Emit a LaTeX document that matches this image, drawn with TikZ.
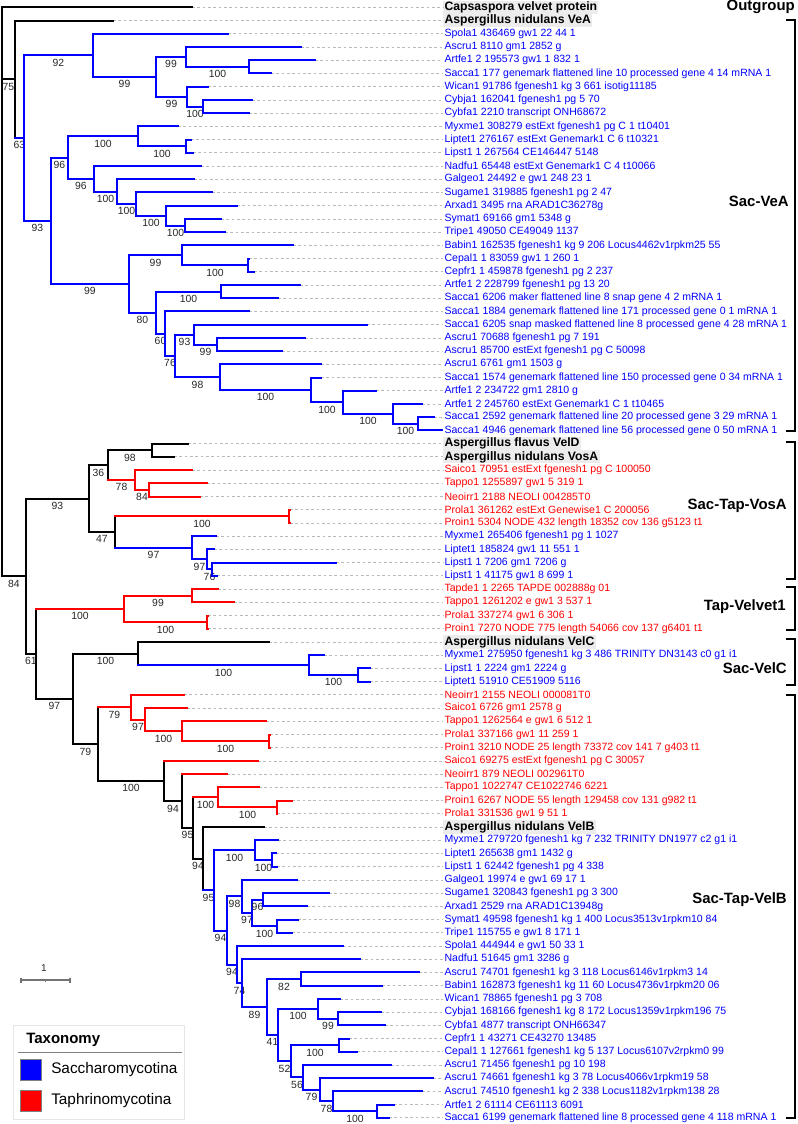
\documentclass[tikz,border=0pt]{standalone}
\usepackage{fontspec}
\setmainfont{Liberation Sans}

\definecolor{sacblue}{RGB}{0,0,255}
\definecolor{tapred}{RGB}{255,0,0}
\definecolor{boxgray}{RGB}{236,236,236}
\definecolor{supgray}{RGB}{40,40,40}
\definecolor{leadgray}{RGB}{185,185,185}
\definecolor{legendgray}{RGB}{230,230,230}

\tikzset{
  branch/.style={line width=1.5pt, line cap=rect},
  sup/.style={below, inner sep=2pt, font=\fontsize{7.8}{8}\selectfont, text=supgray},
  lab/.style={anchor=west, inner xsep=1pt, inner ysep=0pt, minimum height=9.9pt,
    font=\fontsize{7.9}{9}\selectfont},
  og/.style={fill=boxgray, text=black, font=\bfseries\fontsize{9.15}{10}\selectfont},
  sac/.style={text=sacblue},
  tap/.style={text=tapred},
  leader/.style={draw=leadgray, line width=0.6pt, dash pattern=on 2pt off 2pt},
  clade/.style={anchor=east, inner sep=0pt, font=\bfseries\fontsize{11.2}{12}\selectfont},
  bracket/.style={line width=1.1pt},
}

% vertical of a node, leaf branch, inner branch with support value
\newcommand{\brv}[4]{\draw[branch,#1] (#2 |- #3) -- (#2 |- #4);}
\newcommand{\brl}[3]{\draw[branch,#1] (#2 |- #3) -- (#3);}
\newcommand{\brn}[4]{\draw[branch,#1] (#2 |- #3) -- node[sup] (s#3) {#4} (#3);}

\begin{document}
\begin{tikzpicture}[x=0.75pt,y=-0.75pt]
  \fill[white] (0,0) rectangle (797,1124);
  \useasboundingbox (0,0) rectangle (797,1124);

  \begin{scope}[y=-9.915pt, yshift=-5.55pt]
  % leaf tips
  \foreach \i/\x in {0/192,1/113,2/228,3/301,4/315,5/271,6/208,7/252,8/249,9/178,
    10/191,11/193,12/201,13/194,14/212,15/237,16/221,17/225,18/293,19/249,
    20/254,21/300,22/278,23/249,24/367,25/305,26/282,27/321,28/321,29/376,
    30/422,31/434,32/442,33/188,34/174,35/192,36/207,37/200,38/290,39/290,
    40/216,41/214,42/336,43/217,44/218,45/234,46/208,47/208,48/269,49/324,
    50/370,51/370,52/184,53/187,54/266,55/270,56/270,57/258,58/227,59/259,
    60/292,61/277,62/264,63/278,64/276,65/277,66/297,67/329,68/307,69/298,
    70/292,71/343,72/360,73/419,74/382,75/340,76/381,77/385,78/349,79/357,
    80/391,81/433,82/422,83/394,84/389}
    \coordinate (l\i) at (\x,\i);

  % inner nodes
  \coordinate (root) at (2,21.5);
  \coordinate (vA) at (15,5.44);
  \coordinate (vB) at (24,9.88);
  \coordinate (vC) at (93,3.625);
  \coordinate (vD) at (156,5.25);
  \coordinate (vE) at (186,3.75);
  \coordinate (vF) at (249,4.5);
  \coordinate (vG) at (187,6.75);
  \coordinate (vH) at (203,7.5);
  \coordinate (vI) at (51,16.14);
  \coordinate (vJ) at (68,11.36);
  \coordinate (vK) at (138,9.75);
  \coordinate (vL) at (186,10.5);
  \coordinate (vM) at (94,12.97);
  \coordinate (vN) at (117,13.94);
  \coordinate (vO) at (136,14.875);
  \coordinate (vP) at (166,15.75);
  \coordinate (vQ) at (185,16.5);
  \coordinate (vR) at (129,20.92);
  \coordinate (vS) at (182,18.75);
  \coordinate (vT) at (248,19.5);
  \coordinate (vU) at (156,23.09);
  \coordinate (vV) at (221,21.5);
  \coordinate (vW) at (165,24.68);
  \coordinate (vX) at (175,26.36);
  \coordinate (vY) at (194,24.75);
  \coordinate (vZ) at (217,25.5);
  \coordinate (vAA) at (220,27.97);
  \coordinate (vAB) at (311,28.94);
  \coordinate (vAC) at (343,29.875);
  \coordinate (vAD) at (393,30.75);
  \coordinate (vAE) at (418,31.5);
  \coordinate (r84) at (26,43.03);
  \coordinate (o93) at (89,37.16);
  \coordinate (o36) at (108,34.625);
  \coordinate (o98) at (152,33.5);
  \coordinate (o78) at (135,35.75);
  \coordinate (o84) at (149,36.5);
  \coordinate (o47) at (115,39.69);
  \coordinate (o100) at (289,38.5);
  \coordinate (o97a) at (192,40.875);
  \coordinate (o97b) at (207,41.75);
  \coordinate (o76) at (212,42.5);
  \coordinate (g61) at (36,48.9);
  \coordinate (t100) at (124,45.5);
  \coordinate (t99) at (192,44.5);
  \coordinate (t100b) at (207,46.5);
  \coordinate (g97) at (73,52.3);
  \coordinate (c100) at (138,48.875);
  \coordinate (c100b) at (309,49.75);
  \coordinate (c100c) at (358,50.5);
  \coordinate (g79) at (98,55.73);
  \coordinate (b79) at (131,52.94);
  \coordinate (b97) at (145,53.875);
  \coordinate (b100) at (182,54.75);
  \coordinate (b100b) at (269,55.5);
  \coordinate (g100) at (164,58.52);
  \coordinate (g94) at (182,60.04);
  \coordinate (g95) at (193,62.07);
  \coordinate (w100) at (218,59.75);
  \coordinate (w100b) at (277,60.5);
  \coordinate (g94b) at (203,64.4);
  \coordinate (s95) at (214,66.79);
  \coordinate (s100) at (255,63.75);
  \coordinate (s100b) at (272,64.5);
  \coordinate (s94) at (227,69.83);
  \coordinate (s98) at (242,67.25);
  \coordinate (s97) at (252,68.5);
  \coordinate (s96) at (263,67.5);
  \coordinate (s100c) at (277,69.5);
  \coordinate (s94b) at (237,72.4);
  \coordinate (s74) at (242,73.81);
  \coordinate (s89) at (267,75.62);
  \coordinate (s82) at (301,73.5);
  \coordinate (s41) at (278,77.73);
  \coordinate (s100d) at (318,75.75);
  \coordinate (s99) at (338,76.5);
  \coordinate (s52) at (291,79.72);
  \coordinate (s100e) at (339,78.5);
  \coordinate (s56) at (303,80.94);
  \coordinate (s79) at (320,81.875);
  \coordinate (s78) at (333,82.75);
  \coordinate (s100f) at (377,83.5);

  % leaf labels
  \foreach \i/\s/\t in {0/og/Capsaspora velvet protein,
    1/og/Aspergillus nidulans VeA,
    2/sac/Spola1 436469 gw1 22 44 1,
    3/sac/Ascru1 8110 gm1 2852 g,
    4/sac/Artfe1 2 195573 gw1 1 832 1,
    5/sac/Sacca1 177 genemark flattened line 10 processed gene 4 14 mRNA 1,
    6/sac/Wican1 91786 fgenesh1 kg 3 661 isotig11185,
    7/sac/Cybja1 162041 fgenesh1 pg 5 70,
    8/sac/Cybfa1 2210 transcript ONH68672,
    9/sac/Myxme1 308279 estExt fgenesh1 pg C 1 t10401,
    10/sac/Liptet1 276167 estExt Genemark1 C 6 t10321,
    11/sac/Lipst1 1 267564 CE146447 5148,
    12/sac/Nadfu1 65448 estExt Genemark1 C 4 t10066,
    13/sac/Galgeo1 24492 e gw1 248 23 1,
    14/sac/Sugame1 319885 fgenesh1 pg 2 47,
    15/sac/Arxad1 3495 rna ARAD1C36278g,
    16/sac/Symat1 69166 gm1 5348 g,
    17/sac/Tripe1 49050 CE49049 1137,
    18/sac/Babin1 162535 fgenesh1 kg 9 206 Locus4462v1rpkm25 55,
    19/sac/Cepal1 1 83059 gw1 1 260 1,
    20/sac/Cepfr1 1 459878 fgenesh1 pg 2 237,
    21/sac/Artfe1 2 228799 fgenesh1 pg 13 20,
    22/sac/Sacca1 6206 maker flattened line 8 snap gene 4 2 mRNA 1,
    23/sac/Sacca1 1884 genemark flattened line 171 processed gene 0 1 mRNA 1,
    24/sac/Sacca1 6205 snap masked flattened line 8 processed gene 4 28 mRNA 1,
    25/sac/Ascru1 70688 fgenesh1 pg 7 191,
    26/sac/Ascru1 85700 estExt fgenesh1 pg C 50098,
    27/sac/Ascru1 6761 gm1 1503 g,
    28/sac/Sacca1 1574 genemark flattened line 150 processed gene 0 34 mRNA 1,
    29/sac/Artfe1 2 234722 gm1 2810 g,
    30/sac/Artfe1 2 245760 estExt Genemark1 C 1 t10465,
    31/sac/Sacca1 2592 genemark flattened line 20 processed gene 3 29 mRNA 1,
    32/sac/Sacca1 4946 genemark flattened line 56 processed gene 0 50 mRNA 1,
    33/og/Aspergillus flavus VelD,
    34/og/Aspergillus nidulans VosA,
    35/tap/Saico1 70951 estExt fgenesh1 pg C 100050,
    36/tap/Tappo1 1255897 gw1 5 319 1,
    37/tap/Neoirr1 2188 NEOLI 004285T0,
    38/tap/Prola1 361262 estExt Genewise1 C 200056,
    39/tap/Proin1 5304 NODE 432 length 18352 cov 136 g5123 t1,
    40/sac/Myxme1 265406 fgenesh1 pg 1 1027,
    41/sac/Liptet1 185824 gw1 11 551 1,
    42/sac/Lipst1 1 7206 gm1 7206 g,
    43/sac/Lipst1 1 41175 gw1 8 699 1,
    44/tap/Tapde1 1 2265 TAPDE 002888g 01,
    45/tap/Tappo1 1261202 e gw1 3 537 1,
    46/tap/Prola1 337274 gw1 6 306 1,
    47/tap/Proin1 7270 NODE 775 length 54066 cov 137 g6401 t1,
    48/og/Aspergillus nidulans VelC,
    49/sac/Myxme1 275950 fgenesh1 kg 3 486 TRINITY DN3143 c0 g1 i1,
    50/sac/Lipst1 1 2224 gm1 2224 g,
    51/sac/Liptet1 51910 CE51909 5116,
    52/tap/Neoirr1 2155 NEOLI 000081T0,
    53/tap/Saico1 6726 gm1 2578 g,
    54/tap/Tappo1 1262564 e gw1 6 512 1,
    55/tap/Prola1 337166 gw1 11 259 1,
    56/tap/Proin1 3210 NODE 25 length 73372 cov 141 7 g403 t1,
    57/tap/Saico1 69275 estExt fgenesh1 pg C 30057,
    58/tap/Neoirr1 879 NEOLI 002961T0,
    59/tap/Tappo1 1022747 CE1022746 6221,
    60/tap/Proin1 6267 NODE 55 length 129458 cov 131 g982 t1,
    61/tap/Prola1 331536 gw1 9 51 1,
    62/og/Aspergillus nidulans VelB,
    63/sac/Myxme1 279720 fgenesh1 kg 7 232 TRINITY DN1977 c2 g1 i1,
    64/sac/Liptet1 265638 gm1 1432 g,
    65/sac/Lipst1 1 62442 fgenesh1 pg 4 338,
    66/sac/Galgeo1 19974 e gw1 69 17 1,
    67/sac/Sugame1 320843 fgenesh1 pg 3 300,
    68/sac/Arxad1 2529 rna ARAD1C13948g,
    69/sac/Symat1 49598 fgenesh1 kg 1 400 Locus3513v1rpkm10 84,
    70/sac/Tripe1 115755 e gw1 8 171 1,
    71/sac/Spola1 444944 e gw1 50 33 1,
    72/sac/Nadfu1 51645 gm1 3286 g,
    73/sac/Ascru1 74701 fgenesh1 kg 3 118 Locus6146v1rpkm3 14,
    74/sac/Babin1 162873 fgenesh1 kg 11 60 Locus4736v1rpkm20 06,
    75/sac/Wican1 78865 fgenesh1 pg 3 708,
    76/sac/Cybja1 168166 fgenesh1 kg 8 172 Locus1359v1rpkm196 75,
    77/sac/Cybfa1 4877 transcript ONH66347,
    78/sac/Cepfr1 1 43271 CE43270 13485,
    79/sac/Cepal1 1 127661 fgenesh1 kg 5 137 Locus6107v2rpkm0 99,
    80/sac/Ascru1 71456 fgenesh1 pg 10 198,
    81/sac/Ascru1 74661 fgenesh1 kg 3 78 Locus4066v1rpkm19 58,
    82/sac/Ascru1 74510 fgenesh1 kg 2 338 Locus1182v1rpkm138 28,
    83/sac/Artfe1 2 61114 CE61113 6091,
    84/sac/Sacca1 6199 genemark flattened line 8 processed gene 4 118 mRNA 1}
    \node[lab,\s] (lab\i) at (443,\i) {\t};

  % dashed leaders
  \foreach \i in {0,...,84}
    \draw[leader] (l\i) -- (lab\i.west);

  % outgroup and Sac-VeA
  \brv{black}{root}{l0}{r84} \brl{black}{root}{l0}
  \brn{black}{root}{vA}{75} \brn{black}{root}{r84}{84}
  \brv{black}{vA}{l1}{vB} \brl{black}{vA}{l1} \brn{sacblue}{vA}{vB}{63}
  \brv{sacblue}{vB}{vC}{vI} \brn{sacblue}{vB}{vC}{92} \brn{sacblue}{vB}{vI}{93}
  \brv{sacblue}{vC}{l2}{vD} \brl{sacblue}{vC}{l2} \brn{sacblue}{vC}{vD}{99}
  \brv{sacblue}{vD}{vE}{vG} \brn{sacblue}{vD}{vE}{99} \brn{sacblue}{vD}{vG}{99}
  \brv{sacblue}{vE}{l3}{vF} \brl{sacblue}{vE}{l3} \brn{sacblue}{vE}{vF}{100}
  \brv{sacblue}{vF}{l4}{l5} \brl{sacblue}{vF}{l4} \brl{sacblue}{vF}{l5}
  \brv{sacblue}{vG}{l6}{vH} \brl{sacblue}{vG}{l6} \brn{sacblue}{vG}{vH}{100}
  \brv{sacblue}{vH}{l7}{l8} \brl{sacblue}{vH}{l7} \brl{sacblue}{vH}{l8}
  \brv{sacblue}{vI}{vJ}{vR} \brn{sacblue}{vI}{vJ}{96} \brn{sacblue}{vI}{vR}{99}
  \brv{sacblue}{vJ}{vK}{vM} \brn{sacblue}{vJ}{vK}{100} \brn{sacblue}{vJ}{vM}{96}
  \brv{sacblue}{vK}{l9}{vL} \brl{sacblue}{vK}{l9} \brn{sacblue}{vK}{vL}{100}
  \brv{sacblue}{vL}{l10}{l11} \brl{sacblue}{vL}{l10} \brl{sacblue}{vL}{l11}
  \brv{sacblue}{vM}{l12}{vN} \brl{sacblue}{vM}{l12} \brn{sacblue}{vM}{vN}{100}
  \brv{sacblue}{vN}{l13}{vO} \brl{sacblue}{vN}{l13} \brn{sacblue}{vN}{vO}{100}
  \brv{sacblue}{vO}{l14}{vP} \brl{sacblue}{vO}{l14} \brn{sacblue}{vO}{vP}{100}
  \brv{sacblue}{vP}{l15}{vQ} \brl{sacblue}{vP}{l15} \brn{sacblue}{vP}{vQ}{100}
  \brv{sacblue}{vQ}{l16}{l17} \brl{sacblue}{vQ}{l16} \brl{sacblue}{vQ}{l17}
  \brv{sacblue}{vR}{vS}{vU} \brn{sacblue}{vR}{vS}{99} \brn{sacblue}{vR}{vU}{80}
  \brv{sacblue}{vS}{l18}{vT} \brl{sacblue}{vS}{l18} \brn{sacblue}{vS}{vT}{100}
  \brv{sacblue}{vT}{l19}{l20} \brl{sacblue}{vT}{l19} \brl{sacblue}{vT}{l20}
  \brv{sacblue}{vU}{vV}{vW} \brn{sacblue}{vU}{vV}{100} \brn{sacblue}{vU}{vW}{60}
  \brv{sacblue}{vV}{l21}{l22} \brl{sacblue}{vV}{l21} \brl{sacblue}{vV}{l22}
  \brv{sacblue}{vW}{l23}{vX} \brl{sacblue}{vW}{l23} \brn{sacblue}{vW}{vX}{76}
  \brv{sacblue}{vX}{vY}{vAA} \brn{sacblue}{vX}{vY}{93} \brn{sacblue}{vX}{vAA}{98}
  \brv{sacblue}{vY}{l24}{vZ} \brl{sacblue}{vY}{l24} \brn{sacblue}{vY}{vZ}{99}
  \brv{sacblue}{vZ}{l25}{l26} \brl{sacblue}{vZ}{l25} \brl{sacblue}{vZ}{l26}
  \brv{sacblue}{vAA}{l27}{vAB} \brl{sacblue}{vAA}{l27} \brn{sacblue}{vAA}{vAB}{100}
  \brv{sacblue}{vAB}{l28}{vAC} \brl{sacblue}{vAB}{l28} \brn{sacblue}{vAB}{vAC}{100}
  \brv{sacblue}{vAC}{l29}{vAD} \brl{sacblue}{vAC}{l29} \brn{sacblue}{vAC}{vAD}{100}
  \brv{sacblue}{vAD}{l30}{vAE} \brl{sacblue}{vAD}{l30} \brn{sacblue}{vAD}{vAE}{100}
  \brv{sacblue}{vAE}{l31}{l32} \brl{sacblue}{vAE}{l31} \brl{sacblue}{vAE}{l32}

  % Sac-Tap-VosA
  \brv{black}{r84}{o93}{g61} \brn{black}{r84}{o93}{93} \brn{black}{r84}{g61}{61}
  \brv{black}{o93}{o36}{o47} \brn{black}{o93}{o36}{36} \brn{black}{o93}{o47}{47}
  \brv{black}{o36}{o98}{o78} \brn{black}{o36}{o98}{98} \brn{tapred}{o36}{o78}{78}
  \brv{black}{o98}{l33}{l34} \brl{black}{o98}{l33} \brl{black}{o98}{l34}
  \brv{tapred}{o78}{l35}{o84} \brl{tapred}{o78}{l35} \brn{tapred}{o78}{o84}{84}
  \brv{tapred}{o84}{l36}{l37} \brl{tapred}{o84}{l36} \brl{tapred}{o84}{l37}
  \brv{black}{o47}{o100}{o97a} \brn{tapred}{o47}{o100}{100} \brn{sacblue}{o47}{o97a}{97}
  \brv{tapred}{o100}{l38}{l39} \brl{tapred}{o100}{l38} \brl{tapred}{o100}{l39}
  \brv{sacblue}{o97a}{l40}{o97b} \brl{sacblue}{o97a}{l40} \brn{sacblue}{o97a}{o97b}{97}
  \brv{sacblue}{o97b}{l41}{o76} \brl{sacblue}{o97b}{l41} \brn{sacblue}{o97b}{o76}{76}
  \brv{sacblue}{o76}{l42}{l43} \brl{sacblue}{o76}{l42} \brl{sacblue}{o76}{l43}

  % Tap-Velvet1 and Sac-VelC
  \brv{black}{g61}{t100}{g97} \brn{tapred}{g61}{t100}{100} \brn{black}{g61}{g97}{97}
  \brv{tapred}{t100}{t99}{t100b} \brn{tapred}{t100}{t99}{99} \brn{tapred}{t100}{t100b}{100}
  \brv{tapred}{t99}{l44}{l45} \brl{tapred}{t99}{l44} \brl{tapred}{t99}{l45}
  \brv{tapred}{t100b}{l46}{l47} \brl{tapred}{t100b}{l46} \brl{tapred}{t100b}{l47}
  \brv{black}{g97}{c100}{g79} \brn{black}{g97}{c100}{100} \brn{black}{g97}{g79}{79}
  \brv{black}{c100}{l48}{c100b} \brl{black}{c100}{l48} \brn{sacblue}{c100}{c100b}{100}
  \brv{sacblue}{c100b}{l49}{c100c} \brl{sacblue}{c100b}{l49} \brn{sacblue}{c100b}{c100c}{100}
  \brv{sacblue}{c100c}{l50}{l51} \brl{sacblue}{c100c}{l50} \brl{sacblue}{c100c}{l51}

  % Sac-Tap-VelB
  \brv{black}{g79}{b79}{g100} \brn{tapred}{g79}{b79}{79} \brn{black}{g79}{g100}{100}
  \brv{tapred}{b79}{l52}{b97} \brl{tapred}{b79}{l52} \brn{tapred}{b79}{b97}{97}
  \brv{tapred}{b97}{l53}{b100} \brl{tapred}{b97}{l53} \brn{tapred}{b97}{b100}{100}
  \brv{tapred}{b100}{l54}{b100b} \brl{tapred}{b100}{l54} \brn{tapred}{b100}{b100b}{100}
  \brv{tapred}{b100b}{l55}{l56} \brl{tapred}{b100b}{l55} \brl{tapred}{b100b}{l56}
  \brv{black}{g100}{l57}{g94} \brl{tapred}{g100}{l57} \brn{black}{g100}{g94}{94}
  \brv{black}{g94}{l58}{g95} \brl{tapred}{g94}{l58} \brn{black}{g94}{g95}{95}
  \brv{black}{g95}{w100}{g94b} \brn{tapred}{g95}{w100}{100} \brn{black}{g95}{g94b}{94}
  \brv{tapred}{w100}{l59}{w100b} \brl{tapred}{w100}{l59} \brn{tapred}{w100}{w100b}{100}
  \brv{tapred}{w100b}{l60}{l61} \brl{tapred}{w100b}{l60} \brl{tapred}{w100b}{l61}
  \brv{black}{g94b}{l62}{s95} \brl{black}{g94b}{l62} \brn{sacblue}{g94b}{s95}{95}
  \brv{sacblue}{s95}{s100}{s94} \brn{sacblue}{s95}{s100}{100} \brn{sacblue}{s95}{s94}{94}
  \brv{sacblue}{s100}{l63}{s100b} \brl{sacblue}{s100}{l63} \brn{sacblue}{s100}{s100b}{100}
  \brv{sacblue}{s100b}{l64}{l65} \brl{sacblue}{s100b}{l64} \brl{sacblue}{s100b}{l65}
  \brv{sacblue}{s94}{s98}{s94b} \brn{sacblue}{s94}{s98}{98} \brn{sacblue}{s94}{s94b}{94}
  \brv{sacblue}{s98}{l66}{s97} \brl{sacblue}{s98}{l66} \brn{sacblue}{s98}{s97}{97}
  \brv{sacblue}{s97}{s96}{s100c} \brn{sacblue}{s97}{s96}{96} \brn{sacblue}{s97}{s100c}{100}
  \brv{sacblue}{s96}{l67}{l68} \brl{sacblue}{s96}{l67} \brl{sacblue}{s96}{l68}
  \brv{sacblue}{s100c}{l69}{l70} \brl{sacblue}{s100c}{l69} \brl{sacblue}{s100c}{l70}
  \brv{sacblue}{s94b}{l71}{s74} \brl{sacblue}{s94b}{l71} \brn{sacblue}{s94b}{s74}{74}
  \brv{sacblue}{s74}{l72}{s89} \brl{sacblue}{s74}{l72} \brn{sacblue}{s74}{s89}{89}
  \brv{sacblue}{s89}{s82}{s41} \brn{sacblue}{s89}{s82}{82} \brn{sacblue}{s89}{s41}{41}
  \brv{sacblue}{s82}{l73}{l74} \brl{sacblue}{s82}{l73} \brl{sacblue}{s82}{l74}
  \brv{sacblue}{s41}{s100d}{s52} \brn{sacblue}{s41}{s100d}{100} \brn{sacblue}{s41}{s52}{52}
  \brv{sacblue}{s100d}{l75}{s99} \brl{sacblue}{s100d}{l75} \brn{sacblue}{s100d}{s99}{99}
  \brv{sacblue}{s99}{l76}{l77} \brl{sacblue}{s99}{l76} \brl{sacblue}{s99}{l77}
  \brv{sacblue}{s52}{s100e}{s56} \brn{sacblue}{s52}{s100e}{100} \brn{sacblue}{s52}{s56}{56}
  \brv{sacblue}{s100e}{l78}{l79} \brl{sacblue}{s100e}{l78} \brl{sacblue}{s100e}{l79}
  \brv{sacblue}{s56}{l80}{s79} \brl{sacblue}{s56}{l80} \brn{sacblue}{s56}{s79}{79}
  \brv{sacblue}{s79}{l81}{s78} \brl{sacblue}{s79}{l81} \brn{sacblue}{s79}{s78}{78}
  \brv{sacblue}{s78}{l82}{s100f} \brl{sacblue}{s78}{l82} \brn{sacblue}{s78}{s100f}{100}
  \brv{sacblue}{s100f}{l83}{l84} \brl{sacblue}{s100f}{l83} \brl{sacblue}{s100f}{l84}
  \end{scope}

  % clade names and brackets
  \node[clade] (cOut) at (795,7) {Outgroup};
  \node[clade] (cVeA) at (789,201) {Sac-VeA};
  \node[clade] (cVosA) at (787,506) {Sac-Tap-VosA};
  \node[clade] (cVel1) at (786,607) {Tap-Velvet1};
  \node[clade] (cVelC) at (787,668) {Sac-VelC};
  \node[clade] (cVelB) at (787,900) {Sac-Tap-VelB};
  \draw[bracket] (786,20) -- (795,20) -- (795,431) -- (786,431);
  \draw[bracket] (786,442) -- (795,442) -- (795,579) -- (786,579);
  \draw[bracket] (786,587) -- (795,587) -- (795,630) -- (786,630);
  \draw[bracket] (786,639) -- (795,639) -- (795,685) -- (786,685);
  \draw[bracket] (786,695) -- (795,695) -- (795,1118) -- (786,1118);

  % scale bar
  \draw[gray!90!black, line width=0.8pt] (21,980) -- (70,980);
  \draw[gray!90!black, line width=0.8pt] (21,977.5) -- (21,982.5);
  \draw[gray!90!black, line width=0.8pt] (70,977.5) -- (70,982.5);
  \draw[gray!90!black, line width=0.6pt] (45.5,980) -- (45.5,982);
  \node[font=\fontsize{7.5}{8}\selectfont, text=supgray] (scl) at (44,968) {1};

  % legend
  \draw[draw=legendgray, fill=white, line width=0.6pt] (13,1025) rectangle (184,1119);
  \node[anchor=west, inner sep=0pt, font=\bfseries\fontsize{11.25}{12}\selectfont] (legHead) at (26,1040) {Taxonomy};
  \draw[gray, line width=0.7pt] (18,1052) -- (182,1052);
  \draw[fill=sacblue, draw=gray, line width=0.5pt] (20,1059) rectangle (41,1080);
  \node[anchor=west, inner sep=0pt, font=\fontsize{11.5}{12}\selectfont] (legSac) at (51,1069.5) {Saccharomycotina};
  \draw[fill=tapred, draw=gray, line width=0.5pt] (20,1090) rectangle (41,1111);
  \node[anchor=west, inner sep=0pt, font=\fontsize{11.5}{12}\selectfont] (legTap) at (51,1100.5) {Taphrinomycotina};
\end{tikzpicture}
\end{document}
